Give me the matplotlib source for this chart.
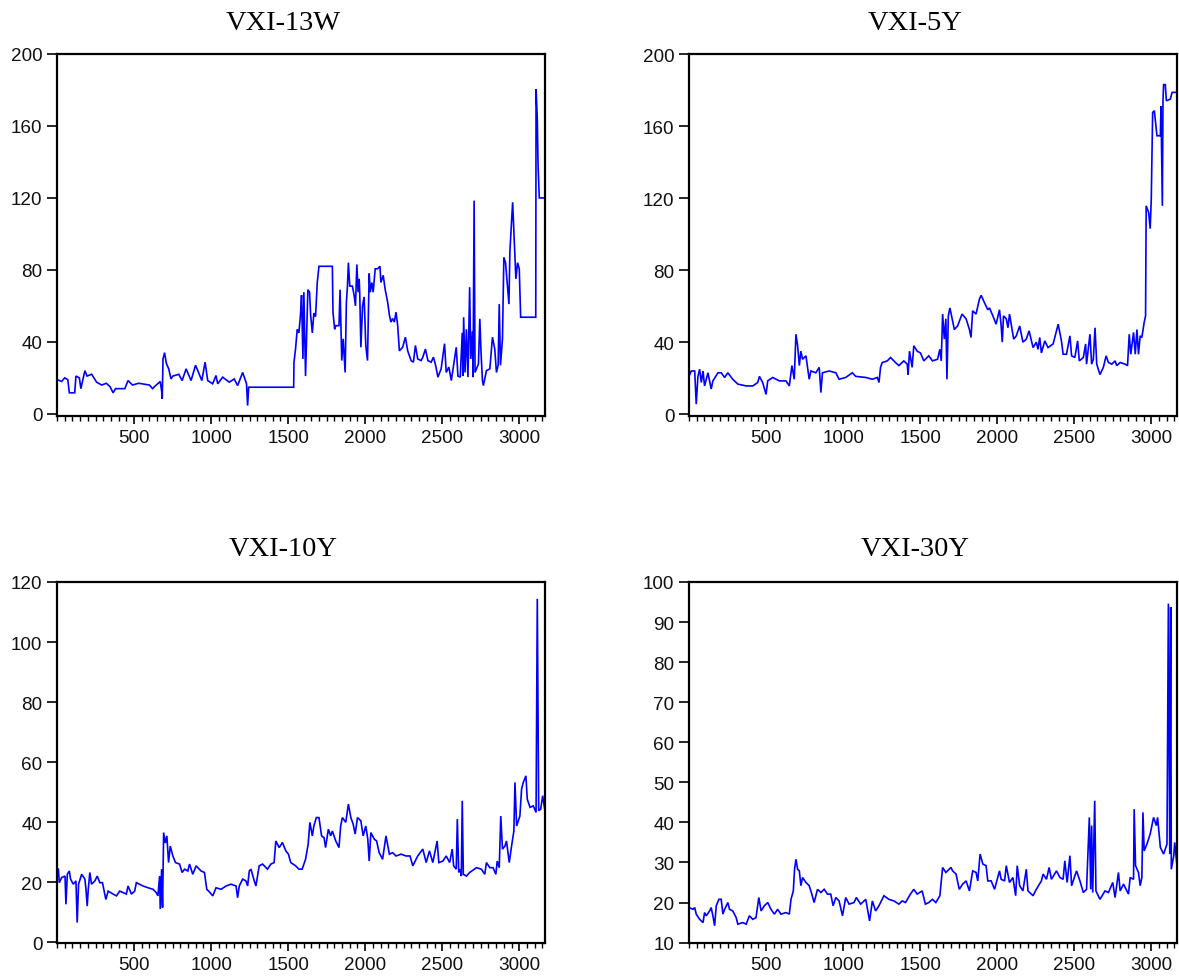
import matplotlib
matplotlib.use("Agg")
import matplotlib.pyplot as plt
from matplotlib.ticker import MultipleLocator

# ---------------- data ----------------
titles = ["VXI-13W", "VXI-5Y", "VXI-10Y", "VXI-30Y"]

x_13w = [1, 30, 50, 70, 80, 115, 123, 145, 155, 181, 195, 225, 257, 290, 320, 345, 364, 380, 440, 461,
         490, 530, 600, 620, 640, 670, 680, 683, 688, 698, 710, 725, 740, 752, 790, 812, 838, 870, 899, 925,
         940, 961, 978, 1010, 1032, 1043, 1075, 1118, 1150, 1172, 1205, 1230, 1237, 1244, 1536,
         1538, 1548, 1559, 1570, 1580, 1587, 1596, 1602, 1613, 1620, 1628, 1639, 1646, 1657, 1667, 1678,
         1689, 1700, 1787, 1791, 1802, 1809, 1830, 1837, 1848, 1857, 1870, 1878, 1885, 1891, 1900, 1917,
         1928, 1937, 1946, 1954, 1961, 1965, 1972, 1983, 1993, 2004, 2015, 2026, 2033, 2043, 2052, 2065,
         2080, 2096, 2102, 2117, 2130, 2146, 2157, 2167, 2178, 2189, 2200, 2211, 2222, 2243, 2261, 2276,
         2298, 2313, 2326, 2341, 2363, 2374, 2391, 2407, 2428, 2443, 2457, 2472, 2493, 2515, 2526, 2543,
         2559, 2570, 2591, 2602, 2617, 2630, 2635, 2639, 2648, 2657, 2667, 2678, 2685, 2696, 2700, 2707,
         2713, 2722, 2735, 2744, 2752, 2761, 2767, 2787, 2809, 2826, 2841, 2852, 2863, 2870, 2878, 2891,
         2900, 2911, 2933, 2939, 2957, 2965, 2978, 2989, 3000, 3009, 3107, 3109, 3117, 3122, 3130, 3165]
y_13w = [19, 18, 20, 19, 11.7, 11.7, 21, 20, 14, 24, 21, 22, 17.6, 16, 17, 15, 11.7, 14, 14, 18.5,
         16, 17, 16, 14, 15.7, 18, 12, 8.3, 30.5, 34, 28, 25, 19.4, 21, 22, 18.5, 25, 18.5, 27, 21.7,
         18.5, 28.7, 18.5, 16.7, 21.3, 16.7, 20.4, 17.6, 19.4, 15.7, 23, 16.7, 4.6, 14.8, 14.8,
         28.7, 36, 47, 45, 55, 66, 30.5, 67.6, 21, 43, 69, 67.6, 55, 45, 56, 54,
         73, 82, 82, 56.5, 47, 49, 49, 69, 29.6, 41.7, 23, 62, 71, 84, 71, 71,
         66, 60, 83, 67.6, 75, 66, 37, 60, 65, 38, 29.6, 78, 67.6, 73, 67.6, 80.6,
         80.6, 82, 73, 77, 69, 62, 55, 51, 53, 51, 56.5, 49, 35, 37, 42.6, 35,
         29.6, 28.7, 38, 30.5, 29.6, 31.5, 36, 29.6, 28.7, 31.5, 27, 20.4, 25, 39, 23, 26,
         18.5, 25, 37, 21, 20.4, 45, 21, 53.7, 23, 47, 20.4, 70.4, 30.5, 46, 20.4, 118.5,
         23, 25, 27.8, 52.8, 34, 18.5, 15.7, 24, 25, 42.6, 36, 23, 27, 61, 27, 41.7,
         87, 84, 61, 90, 117.6, 101, 75, 84, 80.6, 53.7, 53.7, 180.5, 164, 138, 120, 120]

x_5y = [1, 15, 37, 47, 58, 69, 80, 91, 101, 123, 144, 155, 188, 209, 231, 252, 284, 317, 371, 414,
        446, 457, 478, 500, 511, 543, 586, 629, 651, 668, 683, 694, 705, 716, 726, 737, 759, 780, 791, 823,
        845, 856, 866, 909, 953, 974, 1017, 1060, 1082, 1147, 1190, 1222, 1233, 1243, 1254, 1287, 1308, 1340,
        1362, 1394, 1416, 1422, 1431, 1448, 1459, 1481, 1502, 1524, 1556,
        1580, 1613, 1628, 1637, 1646, 1657, 1667, 1674, 1683, 1693, 1704, 1722, 1743, 1772, 1798, 1820,
        1830, 1841, 1863, 1885, 1896, 1917, 1939, 1950, 1972, 1993, 2015, 2026, 2033, 2041, 2059, 2070,
        2080, 2107, 2124, 2146, 2167, 2189, 2207, 2233, 2254, 2265, 2276, 2287, 2309, 2330, 2363, 2396,
        2417, 2428, 2450, 2472, 2483, 2504, 2522, 2533, 2559, 2574, 2580, 2602, 2613, 2624, 2635, 2646,
        2667, 2689, 2707, 2722, 2744, 2765, 2776, 2798, 2830, 2846, 2857, 2867, 2885, 2896, 2907, 2917,
        2928, 2939, 2954, 2963, 2967, 2983, 2993, 3000, 3009, 3020, 3037, 3059, 3063, 3072, 3076, 3080,
        3091, 3098, 3124, 3135, 3165]
y_5y = [21.3, 24, 24, 5.6, 21, 25, 17.6, 24, 15.7, 23, 14, 18.5, 23, 23, 20.4, 23, 19.4, 16.7, 15.7, 15.7,
        17.6, 21, 17.6, 11, 18.5, 20.4, 18.5, 18.5, 15.7, 27, 19.4, 44.4, 38, 27, 35, 30.5, 32.4, 19.4, 24, 23,
        26, 12, 23, 24, 23, 19.4, 20.4, 23, 21, 20.4, 19.4, 20.4, 17.6, 26, 28.7, 29.6, 31.5, 28.7,
        27, 29.6, 27.8, 22, 35, 26, 38, 35, 34, 29.6, 32.4,
        29.6, 30.5, 36, 29.6, 55.6, 41.7, 53, 19.4, 54.6, 59, 54.6, 47, 49, 55.6, 53, 47,
        42.6, 57.4, 55.6, 64, 66, 62, 58, 59, 54.6, 50, 58, 49, 40, 54.6, 53, 48,
        55.6, 41.7, 43.5, 49, 40, 41.7, 46.3, 37, 40, 36, 42.6, 34, 40.7, 37, 39, 50,
        40.7, 33.3, 33.3, 43.5, 32.4, 31.5, 40.7, 29.6, 31.5, 39, 27.8, 44.4, 27.8, 30.5, 48, 27.8,
        22, 26, 32.4, 28.7, 27.8, 29.6, 27, 28.7, 27.8, 27, 44.4, 33.3, 45.4, 33.3, 47, 33.3,
        43.5, 42.6, 51, 54.6, 115.7, 112, 103, 119.4, 167.6, 168.5, 154.6, 154.6, 171, 115.7, 174, 183,
        183, 174, 175, 178.7, 178.7]

x_10y = [1, 9, 15, 30, 52, 58, 67, 80, 88, 106, 123, 131, 140, 160, 181, 188, 196, 203, 213, 224,
         246, 261, 278, 295, 317, 332, 364, 386, 407, 450, 461, 483, 504, 515, 558, 591, 623, 644, 655, 666,
         670, 679, 685, 692, 703, 713, 724, 735, 752, 769, 795, 812, 828, 849, 860, 881, 903, 935, 957, 972,
         993, 1011, 1032, 1065, 1097, 1129, 1162, 1172, 1183, 1205, 1226, 1237, 1248, 1259, 1280, 1291, 1312,
         1334, 1366, 1388, 1409, 1420, 1442, 1463, 1485, 1502, 1517, 1549,
         1570, 1591, 1613, 1630, 1641, 1657, 1667, 1683, 1700, 1717, 1733, 1743, 1761, 1776, 1787, 1809,
         1830, 1841, 1852, 1874, 1891, 1907, 1922, 1935, 1950, 1972, 1987, 2004, 2017, 2026, 2037, 2059,
         2074, 2091, 2113, 2135, 2157, 2178, 2200, 2233, 2265, 2291, 2309, 2341, 2374, 2396, 2417, 2439,
         2467, 2478, 2504, 2526, 2548, 2565, 2574, 2591, 2598, 2607, 2617, 2624, 2630, 2637, 2657, 2678,
         2722, 2754, 2776, 2787, 2809, 2830, 2848, 2857, 2870, 2880, 2891, 2907, 2917, 2935, 2950, 2965,
         2972, 2983, 3004, 3015, 3026, 3043, 3052, 3070, 3091, 3109, 3117, 3126, 3139, 3152, 3165]
y_10y = [24.3, 24.3, 19.8, 21.5, 22, 12.6, 22.6, 23.7, 21, 19.3, 20.4, 6.5, 19.3, 22.6, 21, 17.6, 12, 17.6, 23.2, 19.3,
         20.4, 22, 19.8, 19.8, 14.2, 17, 16, 15.4, 17, 16, 18.7, 16, 17, 19.8, 18.7, 18.1, 17.6, 16.5, 15.4, 22,
         11, 24.3, 11.5, 36.5, 33, 35.4, 26.5, 32, 28.7, 26.5, 26, 23.2, 24.3, 23.7, 26, 22.6, 25.4, 23.7, 23.2, 17.6,
         16.5, 15.4, 18.1, 17.6, 18.7, 19.3, 18.7, 14.8, 18.7, 21, 20.4, 18.7, 23.7, 24.3, 20.4, 18.7, 25.4,
         26, 24.3, 26, 26.5, 33.7, 31.5, 33.2, 30.4, 29.3, 26.5, 25.4,
         24.3, 24.3, 27.6, 32.6, 39.9, 35.4, 38.7, 41.5, 41.5, 35.4, 34.8, 31.5, 37.6, 35.4, 37, 33.7,
         31.5, 38.7, 41.5, 39.9, 46, 41.5, 39.3, 36, 41.5, 40.4, 35.4, 38.7, 34.3, 27, 36.5, 34.3,
         33.7, 29.8, 27.6, 35.4, 29.3, 29.8, 28.7, 29.3, 28.7, 28.7, 25.4, 28.7, 31, 26.5, 30.4, 26.5,
         33.7, 26.5, 27, 28.7, 26.5, 31, 25.4, 24.3, 41, 23.2, 24.3, 22, 47.1, 22.6, 22, 23.2,
         24.8, 24.3, 22.6, 26.5, 24.8, 24.8, 22.6, 27, 24.8, 42, 31, 32, 33.7, 26.5, 32, 37,
         53.2, 38.7, 42, 51, 53.2, 55.4, 47.6, 44.9, 45.4, 43.2, 114.4, 43.8, 44.3, 48.8, 44.3]

x_30y = [1, 26, 37, 47, 69, 91, 101, 112, 134, 144, 155, 166, 177, 194, 209, 220, 231, 252, 263, 284,
         306, 317, 349, 371, 392, 414, 435, 453, 468, 489, 511, 532, 554, 575, 597, 629, 651, 662, 677, 685,
         694, 705, 716, 726, 737, 759, 780, 797, 812, 834, 856, 877, 899, 920, 935, 953, 974, 996, 1017, 1039,
         1071, 1086, 1114, 1147, 1172, 1190, 1211, 1233, 1265, 1297, 1330, 1362, 1384, 1405, 1437, 1459, 1481,
         1513, 1534, 1556,
         1580, 1602, 1628, 1646, 1667, 1700, 1711, 1733, 1754, 1776, 1798, 1820, 1841, 1863, 1874, 1889,
         1907, 1928, 1939, 1961, 1983, 2015, 2026, 2048, 2059, 2080, 2102, 2120, 2130, 2146, 2167, 2189,
         2200, 2233, 2254, 2287, 2298, 2320, 2337, 2352, 2385, 2407, 2428, 2439, 2454, 2472, 2483, 2515,
         2537, 2559, 2580, 2598, 2607, 2613, 2620, 2633, 2641, 2667, 2700, 2722, 2750, 2765, 2787, 2798,
         2820, 2852, 2863, 2885, 2889, 2898, 2917, 2928, 2939, 2946, 2954, 2972, 2993, 3015, 3033, 3041,
         3059, 3080, 3102, 3111, 3120, 3126, 3130, 3146, 3152, 3165]
y_30y = [18.75, 18.3, 18.75, 17.1, 15.8, 15, 17.5, 16.7, 17.9, 18.75, 16.7, 14.2, 19.2, 20.8, 20.8, 17.1, 18.3, 20, 18.3, 17.9,
         16.25, 14.6, 15, 14.6, 16.7, 15.8, 16.25, 21.25, 17.9, 19.2, 20, 18.3, 17.1, 18.3, 17.1, 17.5, 17.1, 20.8, 22.9, 28.3,
         30.8, 28.3, 27.9, 24.2, 26.25, 25, 24.2, 22.1, 20, 23.3, 22.5, 23.3, 22.1, 22.1, 19.2, 21.25, 20.4, 16.7, 21.25, 19.6,
         20, 21.25, 19.6, 20.8, 15.4, 20.4, 17.9, 19.2, 21.7, 20.8, 20.4, 19.6, 20.4, 20, 22.1, 23.3, 22.1,
         22.9, 19.6, 20,
         20.8, 20, 21.7, 28.75, 27.5, 28.75, 27.9, 27.1, 23.3, 24.6, 25.4, 22.9, 27.9, 27.5, 25.4, 32.1,
         29.6, 29.2, 25.4, 25.4, 23.3, 27.9, 25.8, 25.4, 29.2, 25, 26.25, 21.7, 29.2, 24.2, 22.9, 28.3,
         22.9, 21.7, 23.3, 25.4, 27.1, 25.8, 28.75, 25.8, 27.9, 26.25, 25.8, 30.4, 25, 31.7, 24.2, 27.9,
         25.4, 22.5, 23.3, 41.25, 23.3, 39.2, 22.5, 45.4, 22.9, 20.8, 22.9, 22.5, 25, 21.25, 27.5, 22.9,
         24.6, 22.1, 26.25, 25.8, 43.3, 29.2, 27.5, 24.2, 26.25, 42.5, 32.9, 34.6, 37.1, 41.25, 39.2, 41.25,
         33.75, 32.1, 34.6, 94.6, 32.1, 93.75, 28.3, 31.7, 35, 30]

series_x = [x_13w, x_5y, x_10y, x_30y]
series_y = [y_13w, y_5y, y_10y, y_30y]
y_limits = [(-1.2, 200), (-1.0, 200), (-0.3, 120), (9.9, 100)]
y_ticks = [[0, 40, 80, 120, 160, 200], [0, 40, 80, 120, 160, 200],
           [0, 20, 40, 60, 80, 100, 120], [10, 20, 30, 40, 50, 60, 70, 80, 90, 100]]
x_ticks = [500, 1000, 1500, 2000, 2500, 3000]

# ---------------- figure ----------------
W, H = 1179, 978
fig = plt.figure(figsize=(W / 100, H / 100), dpi=100)
fig.patch.set_facecolor("white")

# axes boxes in pixel coords: (left, top, right, bottom)
boxes = [(57, 55, 545, 417), (689, 55, 1177, 417), (57, 583, 545, 944), (689, 583, 1177, 944)]
title_base = [30, 30, 556, 556]

tick_family = ["Liberation Sans", "DejaVu Sans"]
tick_size = 13.6

for i in range(4):
    l, t, r, b = boxes[i]
    ax = fig.add_axes([l / W, 1 - b / H, (r - l) / W, (b - t) / H])
    ax.plot(series_x[i], series_y[i], color="#0000FF", lw=1.2, solid_joinstyle="miter")
    ax.set_xlim(0, 3167)
    ax.set_ylim(*y_limits[i])
    ax.set_yticks(y_ticks[i])
    ax.set_xticks(x_ticks)
    ax.xaxis.set_minor_locator(MultipleLocator(50))
    for s in ax.spines.values():
        s.set_linewidth(1.6)
        s.set_color("black")
    ax.tick_params(axis="y", which="major", direction="out", length=7, width=1.2,
                   pad=3.5, left=True, right=False, colors="black", labelcolor="#111111")
    ax.tick_params(axis="x", which="major", direction="out", length=6, width=1.2,
                   pad=3.5, top=False, colors="black", labelcolor="#111111")
    ax.tick_params(axis="x", which="minor", direction="out", length=3.5, width=1.0, top=False)
    for lab in ax.get_xticklabels() + ax.get_yticklabels():
        lab.set_fontfamily(tick_family)
        lab.set_fontsize(tick_size)
    cx = (l + r) / 2 - 18
    fig.text(cx / W, 1 - title_base[i] / H, titles[i], ha="center", va="baseline",
             fontsize=20.5, family=["Liberation Serif", "DejaVu Serif"])

fig.savefig("out.png", dpi=100, facecolor="white")
